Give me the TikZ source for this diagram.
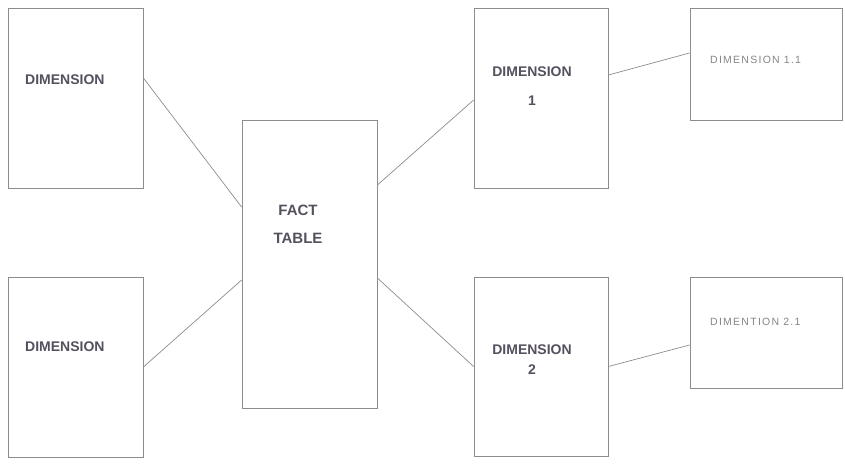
\documentclass[tikz,border=0pt]{standalone}
\usepackage{fontspec}
\setmainfont{Liberation Sans}
\definecolor{boxgray}{HTML}{8C8C8C}
\definecolor{inkgray}{HTML}{55505E}
\definecolor{lightink}{HTML}{858585}

\begin{document}
\begin{tikzpicture}[x=1pt, y=-1pt,
    box/.style={draw=boxgray, line width=0.8pt, inner sep=0pt},
    lbl/.style={text=inkgray, inner sep=0pt, font=\fontsize{14}{17}\selectfont\bfseries},
    sublbl/.style={text=lightink, inner sep=0pt, font=\fontsize{10.5}{12}\selectfont\addfontfeature{LetterSpace=12}},
    link/.style={draw=boxgray, line width=0.7pt}]
    \useasboundingbox (0,0) rectangle (845,466);

    \node[box, minimum width=135pt, minimum height=180pt] (dimA) at (75.5,98) {};
    \node[box, minimum width=135pt, minimum height=180pt] (dimB) at (75.5,367) {};
    \node[box, minimum width=135pt, minimum height=288pt] (fact) at (309.5,264) {};
    \node[box, minimum width=134pt, minimum height=180pt] (dim1) at (541,98) {};
    \node[box, minimum width=134pt, minimum height=179pt] (dim2) at (541,366.5) {};
    \node[box, minimum width=152pt, minimum height=112pt] (dim11) at (766,64) {};
    \node[box, minimum width=152pt, minimum height=111pt] (dim21) at (766,332.5) {};

    \node[lbl, anchor=west] (dimAtext) at (25,80) {DIMENSION};
    \node[lbl, anchor=west] (dimBtext) at (25,347) {DIMENSION};
    \node[lbl, align=center, font=\fontsize{15}{28}\selectfont\bfseries] (facttext) at (298,224) {FACT\\TABLE};
    \node[lbl, align=center, font=\fontsize{14}{29}\selectfont\bfseries] (dim1text) at (532,86.5) {DIMENSION\\1};
    \node[lbl, align=center, font=\fontsize{14}{20}\selectfont\bfseries] (dim2text) at (532,360) {DIMENSION\\2};
    \node[sublbl, anchor=west] (dim11text) at (710,60) {DIMENSION 1.1};
    \node[sublbl, anchor=west] (dim21text) at (710,322) {DIMENTION 2.1};

    \draw[link] ([yshift=20pt]dimA.east) -- ([yshift=57pt]fact.west);
    \draw[link] (dimB.east) -- ([yshift=-16pt]fact.west);
    \draw[link] ([yshift=79pt]fact.east) -- ([yshift=-2pt]dim1.west);
    \draw[link] ([yshift=-14pt]fact.east) -- (dim2.west);
    \draw[link] ([yshift=23pt]dim1.east) -- ([yshift=11pt]dim11.west);
    \draw[link] (dim2.east) -- ([yshift=-12.5pt]dim21.west);
\end{tikzpicture}
\end{document}
